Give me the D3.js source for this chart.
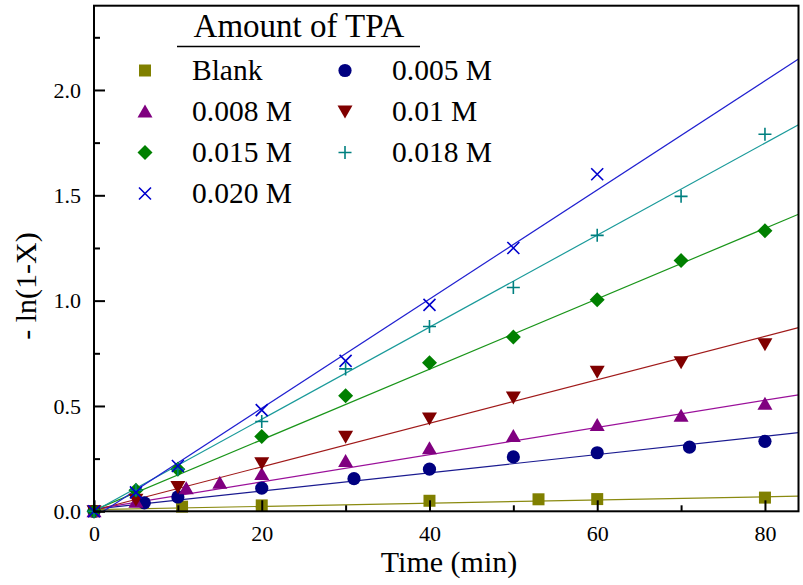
<!DOCTYPE html>
<html>
<head>
<meta charset="utf-8">
<script src="https://cdn.jsdelivr.net/npm/d3@7"></script>
<style>
  body { margin: 0; background: #fff; }
  svg { display: block; font-family: "Liberation Serif", "Times New Roman", serif; }
</style>
</head>
<body>
<div id="chart"></div>
<script>
// values
const seriesLabels = ["Blank", "0.005 M", "0.008 M", "0.01 M", "0.015 M", "0.018 M", "0.020 M"];

const blankTime = [0, 10.5, 20, 40, 53, 60, 80];
const blankValue = [0, 0.022, 0.028, 0.05, 0.057, 0.058, 0.065];

const m005Time = [0, 6, 10, 20, 31, 40, 50, 60, 71, 80];
const m005Value = [0, 0.04, 0.068, 0.11, 0.155, 0.2, 0.258, 0.278, 0.305, 0.332];

const m008Time = [0, 5, 11, 15, 20, 30, 40, 50, 60, 70, 80];
const m008Value = [0, 0.045, 0.11, 0.135, 0.177, 0.239, 0.299, 0.358, 0.41, 0.453, 0.51];

const m010Time = [0, 5, 10, 20, 30, 40, 50, 60, 70, 80];
const m010Value = [0, 0.055, 0.115, 0.228, 0.354, 0.441, 0.54, 0.663, 0.708, 0.793];

const m015Time = [0, 5, 10, 20, 30, 40, 50, 60, 70, 80];
const m015Value = [0, 0.1, 0.2, 0.355, 0.548, 0.705, 0.827, 1.004, 1.19, 1.332];

const m018Time = [0, 5, 10, 20, 30, 40, 50, 60, 70, 80];
const m018Value = [0, 0.1, 0.2, 0.426, 0.676, 0.877, 1.062, 1.31, 1.495, 1.79];

const m020Time = [0, 5, 10, 20, 30, 40, 50, 60];
const m020Value = [0, 0.09, 0.215, 0.48, 0.714, 0.98, 1.25, 1.6];

// fitted lines: value at t = 0 and at t = 84
const fitStart = [0.008, 0.01, 0.01, 0.005, 0.005, 0.0, -0.029];
const fitEnd = [0.072, 0.373, 0.553, 0.872, 1.41, 1.835, 2.147];

const xTicks = [0, 20, 40, 60, 80];
const xMinorTicks = [10, 30, 50, 70];
const yTicks = [0, 0.5, 1.0, 1.5, 2.0];
const yMinorTicks = [0.25, 0.75, 1.25, 1.75, 2.25];

const colors = ["#808000", "#000080", "#800080", "#800000", "#008000", "#008080", "#0000cd"];
const lineColors = ["#8a8a10", "#1a1a90", "#9a109a", "#a01a1a", "#1a951a", "#1a9a9a", "#2020d0"];
const shapes = ["square", "circle", "triangle", "triangleDown", "diamond", "plus", "cross"];

const times = [blankTime, m005Time, m008Time, m010Time, m015Time, m018Time, m020Time];
const values = [blankValue, m005Value, m008Value, m010Value, m015Value, m018Value, m020Value];

const series = seriesLabels.map((label, i) => ({
  label,
  color: colors[i],
  lineColor: lineColors[i],
  shape: shapes[i],
  points: times[i].map((t, j) => ({ t, v: values[i][j] })),
  fit: [{ t: 0, v: fitStart[i] }, { t: 84, v: fitEnd[i] }],
}));

const width = 803;
const height = 585;
const plot = { left: 94, right: 798.5, top: 5.7, bottom: 511.3 };

const svg = d3
  .select("#chart")
  .append("svg")
  .attr("width", width)
  .attr("height", height)
  .attr("viewBox", [0, 0, width, height]);

const x = d3.scaleLinear().domain([0, 84]).range([plot.left, plot.right]);
const y = d3.scaleLinear().domain([0, 2.4]).range([plot.bottom, plot.top]);

svg
  .append("clipPath")
  .attr("id", "plot-clip")
  .append("rect")
  .attr("x", plot.left)
  .attr("y", plot.top)
  .attr("width", plot.right - plot.left)
  .attr("height", plot.bottom - plot.top);

// marker paths
const markerPath = (shape) => {
  switch (shape) {
    case "square":
      return "M-6,-6H6V6H-6Z";
    case "circle":
      return d3.symbol(d3.symbolCircle, Math.PI * 6.6 * 6.6)();
    case "triangle":
      return "M0,-7L7.5,6H-7.5Z";
    case "triangleDown":
      return "M0,7L7.5,-6H-7.5Z";
    case "diamond":
      return "M0,-7.5L7.5,0L0,7.5L-7.5,0Z";
    case "plus":
      return "M-6.5,0H6.5M0,-6.5V6.5";
    case "cross":
      return "M-6,-6L6,6M-6,6L6,-6";
  }
};
const isStroked = (shape) => shape === "plus" || shape === "cross";

const drawMarker = (g, s) => {
  g.append("path")
    .attr("d", markerPath(s.shape))
    .attr("fill", isStroked(s.shape) ? "none" : s.color)
    .attr("stroke", s.color)
    .attr("stroke-width", isStroked(s.shape) ? 1.6 : 0);
};

// fit lines
const line = d3
  .line()
  .x((d) => x(d.t))
  .y((d) => y(d.v));

svg
  .append("g")
  .attr("clip-path", "url(#plot-clip)")
  .selectAll("path")
  .data(series)
  .join("path")
  .attr("d", (d) => line(d.fit))
  .attr("fill", "none")
  .attr("stroke", (d) => d.lineColor)
  .attr("stroke-width", 1.2);

// markers
series.forEach((s) => {
  svg
    .append("g")
    .selectAll("g")
    .data(s.points)
    .join("g")
    .attr("transform", (d) => `translate(${x(d.t)},${y(d.v)})`)
    .each(function () {
      drawMarker(d3.select(this), s);
    });
});

// axes (ticks point inward)
const axisStyle = (g) => {
  g.select(".domain").remove();
  g.selectAll(".tick line").attr("stroke", "#000").attr("stroke-width", 2);
  g.selectAll(".tick text").attr("font-size", 22).attr("fill", "#000").attr("font-family", "Liberation Serif");
};

svg
  .append("g")
  .attr("transform", `translate(0,${plot.bottom})`)
  .call(d3.axisBottom(x).tickValues(xTicks).tickSizeInner(-11).tickSizeOuter(0).tickPadding(14))
  .call(axisStyle);

svg
  .append("g")
  .attr("transform", `translate(0,${plot.bottom})`)
  .call(d3.axisBottom(x).tickValues(xMinorTicks).tickSizeInner(-6).tickSizeOuter(0).tickFormat(""))
  .call(axisStyle);

svg
  .append("g")
  .attr("transform", `translate(${plot.left},0)`)
  .call(d3.axisLeft(y).tickValues(yTicks).tickFormat(d3.format(".1f")).tickSizeInner(-11).tickSizeOuter(0).tickPadding(13))
  .call(axisStyle);

svg
  .append("g")
  .attr("transform", `translate(${plot.left},0)`)
  .call(d3.axisLeft(y).tickValues(yMinorTicks).tickSizeInner(-6).tickSizeOuter(0).tickFormat(""))
  .call(axisStyle);

// frame
svg
  .append("rect")
  .attr("x", plot.left)
  .attr("y", plot.top)
  .attr("width", plot.right - plot.left)
  .attr("height", plot.bottom - plot.top)
  .attr("fill", "none")
  .attr("stroke", "#000")
  .attr("stroke-width", 2);

// axis titles
svg
  .append("text")
  .text("Time (min)")
  .attr("x", 449)
  .attr("y", 572)
  .attr("text-anchor", "middle")
  .attr("font-size", 30);

svg
  .append("text")
  .text("- ln(1-X)")
  .attr("transform", "translate(36,286) rotate(-90)")
  .attr("text-anchor", "middle")
  .attr("font-size", 30);

// legend
const legend = svg.append("g");

legend
  .append("text")
  .text("Amount of TPA")
  .attr("x", 299)
  .attr("y", 37)
  .attr("text-anchor", "middle")
  .attr("font-size", 33);

legend
  .append("line")
  .attr("x1", 177)
  .attr("x2", 420)
  .attr("y1", 46.5)
  .attr("y2", 46.5)
  .attr("stroke", "#000")
  .attr("stroke-width", 1.5);

// Blank and 0.005 M share the first row, the rest go two per row
const legendItems = legend
  .selectAll("g.item")
  .data(series)
  .join("g")
  .attr("class", "item")
  .attr("transform", (d, i) => {
    const col = i % 2 === 1 ? 1 : 0;
    const row = i === 0 ? 0 : Math.floor(i / 2) + (i % 2 === 1 ? 0 : 0);
    return `translate(${col * 200},${80 + 41 * (i === 1 ? 0 : row)})`;
  });

legendItems.each(function (d) {
  const g = d3.select(this);
  const m = g.append("g").attr("transform", "translate(145,-9.5)");
  drawMarker(m, d);
  g.append("text").text(d.label).attr("x", 192).attr("y", 0).attr("font-size", 29.5);
});
</script>
</body>
</html>
